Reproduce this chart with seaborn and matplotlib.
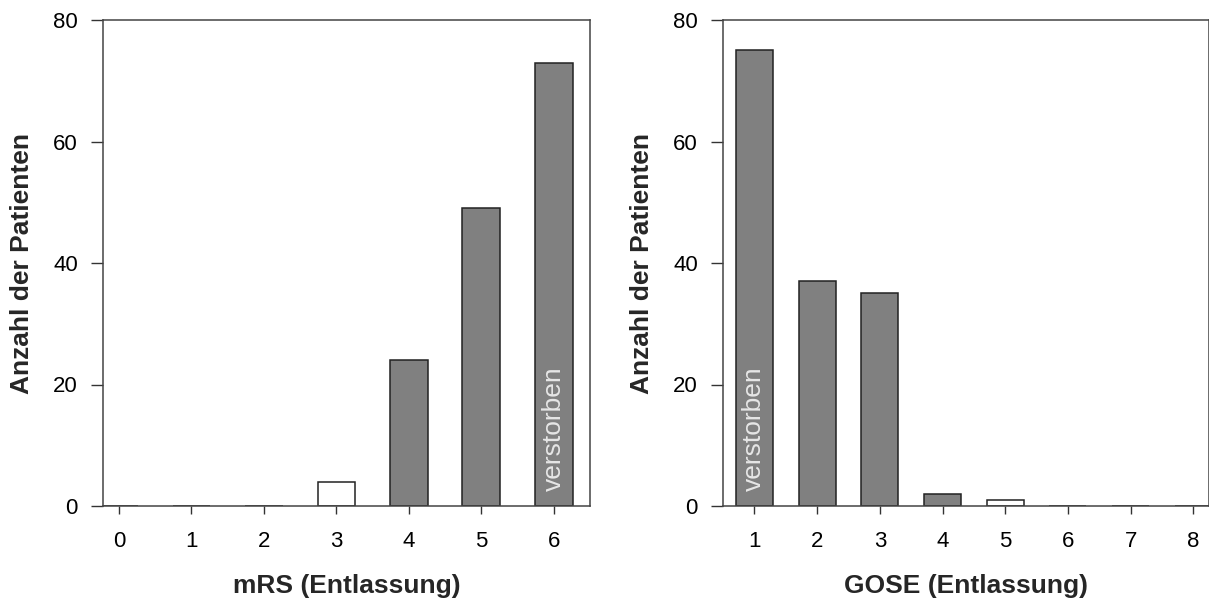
import matplotlib
matplotlib.use("Agg")
import matplotlib.pyplot as plt
import seaborn as sns
import pandas as pd

# Data
mrs_categories = ["0", "1", "2", "3", "4", "5", "6"]
mrs_counts = [0, 0, 0, 4, 24, 49, 73]
mrs_colors = ["white", "white", "white", "white", "#808080", "#808080", "#808080"]

gose_categories = ["1", "2", "3", "4", "5", "6", "7", "8"]
gose_counts = [75, 37, 35, 2, 1, 0, 0, 0]
gose_colors = ["#808080", "#808080", "#808080", "#808080", "white", "white", "white", "white"]

y_ticks = [0, 20, 40, 60, 80]

sns.set_theme(style="white")
plt.rcParams["font.family"] = ["Liberation Sans", "DejaVu Sans"]

fig = plt.figure(figsize=(12.09, 6.02), dpi=100)
ax1 = fig.add_axes([103 / 1209, 1 - 506 / 602, (590 - 103) / 1209, 486 / 602])
ax2 = fig.add_axes([723 / 1209, 1 - 506 / 602, (1208.5 - 723) / 1209, 486 / 602])

df1 = pd.DataFrame({"cat": mrs_categories, "n": mrs_counts})
df2 = pd.DataFrame({"cat": gose_categories, "n": gose_counts})

sns.barplot(data=df1, x="cat", y="n", hue="cat", order=mrs_categories,
            palette=dict(zip(mrs_categories, mrs_colors)), legend=False,
            width=0.52, edgecolor="#222222", linewidth=1.1, ax=ax1)
sns.barplot(data=df2, x="cat", y="n", hue="cat", order=gose_categories,
            palette=dict(zip(gose_categories, gose_colors)), legend=False,
            width=0.59, edgecolor="#222222", linewidth=1.1, ax=ax2)

ax1.set_xlim(-0.22, 6.5)
ax2.set_xlim(-0.5, 7.24)

for ax, xl in [(ax1, "mRS (Entlassung)"), (ax2, "GOSE (Entlassung)")]:
    ax.set_ylim(0, 80)
    ax.set_yticks(y_ticks)
    ax.set_yticklabels([str(v) for v in y_ticks])
    ax.set_xlabel(xl, fontsize=19, fontweight="bold", labelpad=16)
    ax.set_ylabel("Anzahl der Patienten", fontsize=19, fontweight="bold", labelpad=14)
    ax.tick_params(axis="y", direction="out", length=9, width=1, colors="#333333",
                   labelsize=16, labelcolor="black", pad=9, left=True)
    ax.tick_params(axis="x", direction="out", length=6, width=1, colors="#333333",
                   labelsize=16, labelcolor="black", pad=12, bottom=True)
    for s in ax.spines.values():
        s.set_visible(True)
        s.set_color("#444444")
        s.set_linewidth(1.1)

# "verstorben" labels inside death bars
ax1.text(6, 2.5, "verstorben", rotation=90, ha="center", va="bottom",
         color="#e6e6e6", fontsize=19)
ax2.text(0, 2.5, "verstorben", rotation=90, ha="center", va="bottom",
         color="#e6e6e6", fontsize=19)

fig.savefig("out.png", dpi=100, facecolor="white")
